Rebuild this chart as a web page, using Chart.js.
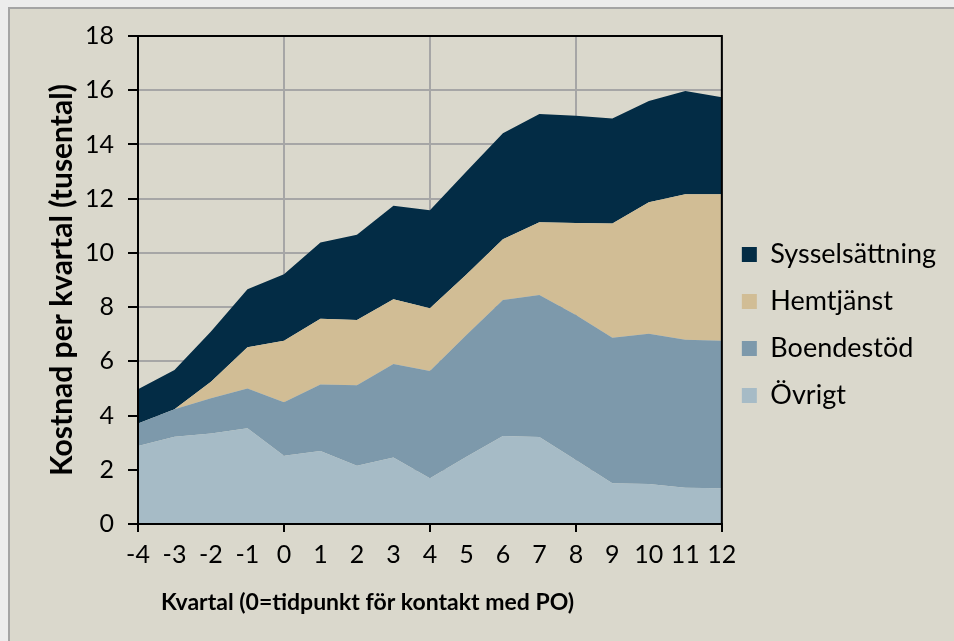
<!DOCTYPE html>
<html>
<head>
<meta charset="utf-8">
<script src="https://cdn.jsdelivr.net/npm/chart.js@4/dist/chart.umd.min.js"></script>
<style>
  html, body { margin: 0; padding: 0; background: #ececec; width: 954px; height: 641px; overflow: hidden; }
  #frame { position: absolute; left: 8px; top: 7px; right: 0; bottom: 0;
           border-left: 2px solid #a4a4a4; border-top: 2px solid #a4a4a4; background: #dad8cc; }
  #chart { position: absolute; left: 0; top: 0; }
</style>
</head>
<body>
<div id="frame"><canvas id="chart" width="944" height="632"></canvas></div>
<script>
// kvartal relativt kontakt med PO
var kvartal = ['-4', '-3', '-2', '-1', '0', '1', '2', '3', '4', '5', '6', '7', '8', '9', '10', '11', '12'];

// kostnad per kvartal (tusental), en serie per insats
var ovrigt = [2.88, 3.22, 3.34, 3.53, 2.52, 2.69, 2.15, 2.45, 1.69, 2.48, 3.25, 3.21, 2.36, 1.50, 1.48, 1.34, 1.32];
var boendestod = [0.83, 1.01, 1.30, 1.47, 1.97, 2.46, 2.97, 3.45, 3.95, 4.49, 5.01, 5.24, 5.35, 5.37, 5.54, 5.46, 5.44];
var hemtjanst = [0, 0, 0.61, 1.52, 2.27, 2.42, 2.40, 2.39, 2.32, 2.23, 2.24, 2.68, 3.39, 4.21, 4.85, 5.36, 5.40];
var sysselsattning = [1.26, 1.45, 1.85, 2.14, 2.45, 2.81, 3.15, 3.45, 3.61, 3.80, 3.91, 3.99, 3.96, 3.88, 3.73, 3.81, 3.58];

var yTicks = [0, 2, 4, 6, 8, 10, 12, 14, 16, 18];

var tickFont = { family: 'Lato', size: 25 };

function area(label, data, color, fill) {
    return {
        label: label,
        data: data,
        backgroundColor: color,
        borderColor: color,
        borderWidth: 0,
        pointRadius: 0,
        tension: 0,
        fill: fill
    };
}

// ram runt ritytan
var frame = {
    id: 'frame',
    afterDatasetsDraw: function(chart) {
        var a = chart.chartArea, c = chart.ctx;
        c.save();
        c.strokeStyle = '#000';
        c.lineWidth = 2;
        c.strokeRect(a.left, a.top, a.right - a.left, a.bottom - a.top);
        c.restore();
    }
};

var ctx = document.getElementById('chart').getContext('2d');
var chart = new Chart(ctx, {
    type: 'line',
    data: {
        labels: kvartal,
        datasets: [
            area('Övrigt', ovrigt, '#a6bbc6', 'origin'),
            area('Boendestöd', boendestod, '#7d99ab', '-1'),
            area('Hemtjänst', hemtjanst, '#d1bd95', '-1'),
            area('Sysselsättning', sysselsattning, '#032c45', '-1')
        ]
    },
    options: {
        responsive: false,
        animation: false,
        layout: { padding: { top: 0, right: 8, bottom: 0, left: 0 } },
        plugins: {
            tooltip: { enabled: false },
            legend: {
                position: 'right',
                reverse: true,
                labels: {
                    font: { family: 'Lato', size: 27 },
                    color: '#000',
                    boxWidth: 15,
                    boxHeight: 15,
                    padding: 20
                }
            }
        },
        scales: {
            x: {
                offset: false,
                afterFit: function(s) { s.height = 117; },
                grid: {
                    color: function(c) { return c.index % 4 === 0 ? '#a6a6a6' : 'rgba(0,0,0,0)'; },
                    tickColor: function(c) { return c.index % 4 === 0 ? '#000' : 'rgba(0,0,0,0)'; },
                    lineWidth: 2,
                    tickLength: 8
                },
                border: { color: '#000', width: 2 },
                ticks: { font: tickFont, color: '#000', autoSkip: false, maxRotation: 0, padding: 8 },
                title: {
                    display: true,
                    align: 'start',
                    text: '\u2002\u2002Kvartal (0=tidpunkt för kontakt med PO)',
                    font: { family: 'Lato', size: 23, weight: 'bold' },
                    color: '#000',
                    padding: { top: 0, bottom: 25 }
                }
            },
            y: {
                stacked: true,
                min: 0,
                max: 18,
                afterFit: function(s) { s.width = 128; s.paddingTop = 27; },
                afterBuildTicks: function(s) { s.ticks = yTicks.map(function(v) { return { value: v }; }); },
                grid: { color: '#a6a6a6', lineWidth: 2, tickColor: '#000', tickLength: 10 },
                border: { color: '#000', width: 2 },
                ticks: { font: tickFont, color: '#000', padding: 14 },
                title: {
                    display: true,
                    text: 'Kostnad per kvartal (tusental)',
                    font: { family: 'Lato', size: 30, weight: 'bold' },
                    color: '#000',
                    padding: { top: 34, bottom: 0 }
                }
            }
        }
    },
    plugins: [frame]
});
</script>
</body>
</html>
